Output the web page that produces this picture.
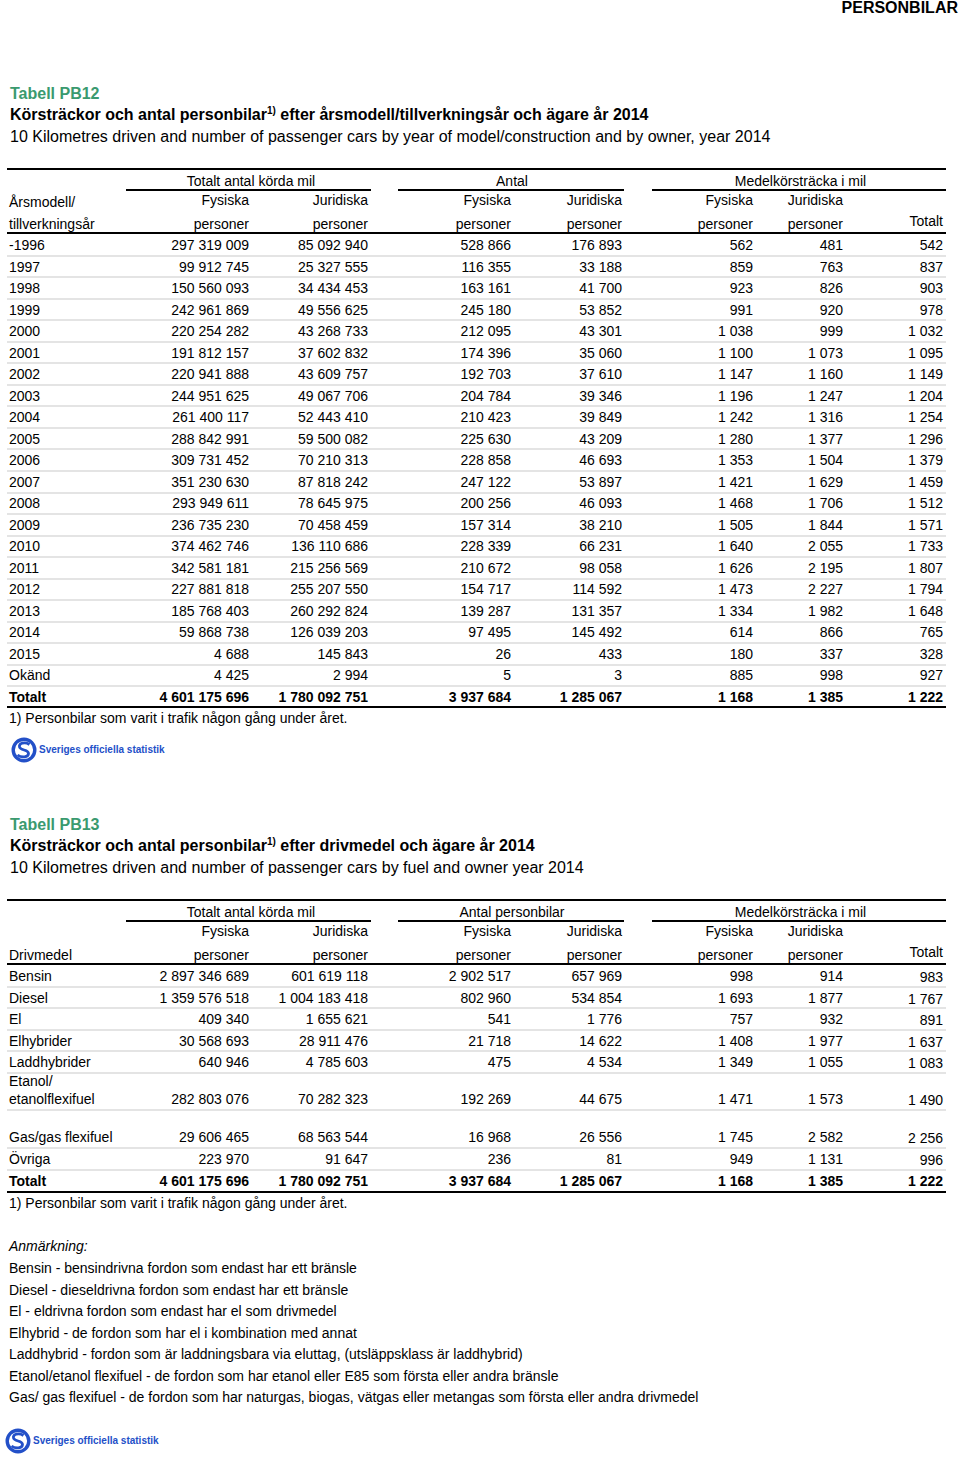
<!DOCTYPE html>
<html><head><meta charset="utf-8">
<script src="https://cdn.jsdelivr.net/npm/chart.js@4.4.1/dist/chart.umd.min.js"></script>
<style>
html,body{margin:0;padding:0;background:#fff}
body{width:960px;height:1458px;position:relative;overflow:hidden;font-family:"Liberation Sans",Arial,Helvetica,sans-serif;color:#000}
.t{position:absolute;white-space:nowrap;height:20px;line-height:20px;font-size:14px}
.l{position:absolute}
sup{font-size:10px;line-height:0;vertical-align:6px}
.logotxt{position:absolute;white-space:nowrap;font-family:"Liberation Sans",Arial,sans-serif;font-weight:bold;font-size:10px;line-height:14px;height:14px;color:#2350c8}
</style></head><body>
<script>
// ---------- DATA: Tabell PB12 ----------
const years = ['-1996','1997','1998','1999','2000','2001','2002','2003','2004','2005','2006','2007','2008','2009','2010','2011','2012','2013','2014','2015','Okänd'];
const kmFys = [297319009,99912745,150560093,242961869,220254282,191812157,220941888,244951625,261400117,288842991,309731452,351230630,293949611,236735230,374462746,342581181,227881818,185768403,59868738,4688,4425];
const kmJur = [85092940,25327555,34434453,49556625,43268733,37602832,43609757,49067706,52443410,59500082,70210313,87818242,78645975,70458459,136110686,215256569,255207550,260292824,126039203,145843,2994];
const antFys = [528866,116355,163161,245180,212095,174396,192703,204784,210423,225630,228858,247122,200256,157314,228339,210672,154717,139287,97495,26,5];
const antJur = [176893,33188,41700,53852,43301,35060,37610,39346,39849,43209,46693,53897,46093,38210,66231,98058,114592,131357,145492,433,3];
const medFys = [562,859,923,991,1038,1100,1147,1196,1242,1280,1353,1421,1468,1505,1640,1626,1473,1334,614,180,885];
const medJur = [481,763,826,920,999,1073,1160,1247,1316,1377,1504,1629,1706,1844,2055,2195,2227,1982,866,337,998];
const medTot = [542,837,903,978,1032,1095,1149,1204,1254,1296,1379,1459,1512,1571,1733,1807,1794,1648,765,328,927];
const totals1 = [4601175696,1780092751,3937684,1285067,1168,1385,1222];

// ---------- DATA: Tabell PB13 ----------
const fuels = ['Bensin','Diesel','El','Elhybrider','Laddhybrider','Etanol/|etanolflexifuel','Gas/gas flexifuel','Övriga'];
const kmFys2 = [2897346689,1359576518,409340,30568693,640946,282803076,29606465,223970];
const kmJur2 = [601619118,1004183418,1655621,28911476,4785603,70282323,68563544,91647];
const antFys2 = [2902517,802960,541,21718,475,192269,16968,236];
const antJur2 = [657969,534854,1776,14622,4534,44675,26556,81];
const medFys2 = [998,1693,757,1408,1349,1471,1745,949];
const medJur2 = [914,1877,932,1977,1055,1573,2582,1131];
const medTot2 = [983,1767,891,1637,1083,1490,2256,996];
const totals2 = [4601175696,1780092751,3937684,1285067,1168,1385,1222];

const groupHeads1 = ['Totalt antal körda mil','Antal','Medelkörsträcka i mil'];
const groupHeads2 = ['Totalt antal körda mil','Antal personbilar','Medelkörsträcka i mil'];
const notes = [
 'Bensin - bensindrivna fordon som endast har ett bränsle',
 'Diesel - dieseldrivna fordon som endast har ett bränsle',
 'El - eldrivna fordon som endast har el som drivmedel',
 'Elhybrid - de fordon som har el i kombination med annat',
 'Laddhybrid - fordon som är laddningsbara via eluttag, (utsläppsklass är laddhybrid)',
 'Etanol/etanol flexifuel - de fordon som har etanol eller E85 som första eller andra bränsle',
 'Gas/ gas flexifuel - de fordon som har naturgas, biogas, vätgas eller metangas som första eller andra drivmedel'
];

// ---------- helpers ----------
const page = document.body;
const fmt = n => String(n).replace(/\B(?=(\d{3})+(?!\d))/g,'\u00a0');
function txt(s, x, y, align, st, html){
  const d=document.createElement('div'); d.className='t';
  if(html) d.innerHTML=s; else d.textContent=s;
  if(align==='right'){d.style.left=(x-500)+'px';d.style.width='500px';d.style.textAlign='right';}
  else if(align==='center'){d.style.left=(x-250)+'px';d.style.width='500px';d.style.textAlign='center';}
  else d.style.left=x+'px';
  d.style.top=(y-10)+'px';
  if(st) Object.assign(d.style,st);
  page.appendChild(d); return d;
}
function hline(x1,x2,y,h,c){
  const d=document.createElement('div'); d.className='l';
  Object.assign(d.style,{left:x1+'px',width:(x2-x1)+'px',top:(y-h/2)+'px',height:h+'px',background:c});
  page.appendChild(d);
}
function logo(x,y){
  const d=document.createElement('div'); d.className='l';
  d.style.left=x+'px'; d.style.top=(y-13)+'px';
  d.innerHTML='<svg width="28" height="26" xmlns="http://www.w3.org/2000/svg">'+
   '<circle cx="13" cy="13" r="10.8" fill="none" stroke="#2350c8" stroke-width="3.4"/>'+
   '<path d="M18.5 7.5 C14 4.5 7.5 6 8.5 10 C9.5 14 17.5 12 17.5 16.5 C17.5 20.5 10.5 21 6.5 18" fill="none" stroke="#2350c8" stroke-width="2.8"/></svg>';
  page.appendChild(d);
  const t=document.createElement('div'); t.className='logotxt';
  t.textContent='Sveriges officiella statistik';
  t.style.left=(x+28)+'px'; t.style.top=(y-7)+'px';
  page.appendChild(t);
}

const colX = [249,368,511,622,753,843,943];
const L=7, R=946;
const groupSpans = [[126,371],[398,624],[652,946]];
const headShift = [2.5,1,1.5];
const green = '#3a9a6f';
const bigFont = {fontSize:'16px'};

// header
txt('PERSONBILAR',958,8,'right',{fontSize:'16px',fontWeight:'bold'});

function header(top, heads, labelTop, labelBot){
  hline(L,R,top,2,'#000');
  groupSpans.forEach((s,i)=>{
    txt(heads[i],(s[0]+s[1])/2+headShift[i],top+12,'center');
    hline(s[0],s[1],top+21,2,'#000');
  });
  const r2=top+31, r3=top+55;
  if(labelTop) txt(labelTop,9,r2+2);
  txt(labelBot,9,r3);
  ['Fysiska','Juridiska','Fysiska','Juridiska','Fysiska','Juridiska'].forEach((s,i)=>txt(s,colX[i],r2,'right'));
  for(let i=0;i<6;i++) txt('personer',colX[i],r3,'right');
  txt('Totalt',colX[6],r3-3,'right');
  hline(L,R,top+64,2,'#000');
}
function row(label, vals, y, bold){
  const st = bold?{fontWeight:'bold'}:null;
  txt(label,9,y,'left',st);
  vals.forEach((v,i)=>txt(fmt(v),colX[i],y,'right',st));
}

// ---------- Tabell PB12 ----------
txt('Tabell PB12',10,94,'left',{fontSize:'16px',fontWeight:'bold',color:green});
txt('Körsträckor och antal personbilar<sup>1)</sup> efter årsmodell/tillverkningsår och ägare år 2014',10,115,'left',{fontSize:'16px',fontWeight:'bold'},true);
txt('10 Kilometres driven and number of passenger cars by year of model/construction and by owner, year 2014',10,137,'left',bigFont);
header(169, groupHeads1, 'Årsmodell/', 'tillverkningsår');
const rh=21.52;
years.forEach((yname,i)=>{
  const y=245+i*rh;
  row(yname,[kmFys[i],kmJur[i],antFys[i],antJur[i],medFys[i],medJur[i],medTot[i]],y,false);
  hline(L,R,y+10.8,2,'#e4e4e4');
});
const yT1=245+years.length*rh;
row('Totalt',totals1,yT1,true);
hline(L,R,yT1+10.5,2,'#000');
txt('1) Personbilar som varit i trafik någon gång under året.',9,718);
logo(11,750);

// ---------- Tabell PB13 ----------
txt('Tabell PB13',10,825,'left',{fontSize:'16px',fontWeight:'bold',color:green});
txt('Körsträckor och antal personbilar<sup>1)</sup> efter drivmedel och ägare år 2014',10,846,'left',{fontSize:'16px',fontWeight:'bold'},true);
txt('10 Kilometres driven and number of passenger cars by fuel and owner year 2014',10,868,'left',bigFont);
header(900, groupHeads2, null, 'Drivmedel');
const rowY2=[976,997.5,1019,1040.5,1062,1099,1137,1159];
fuels.forEach((f,i)=>{
  const y=rowY2[i];
  const parts=f.split('|');
  if(parts.length>1){txt(parts[0],9,y-18);txt(parts[1],9,y);}
  else txt(f,9,y);
  const vals=[kmFys2[i],kmJur2[i],antFys2[i],antJur2[i],medFys2[i],medJur2[i]];
  vals.forEach((v,k)=>txt(fmt(v),colX[k],y,'right'));
  txt(fmt(medTot2[i]),colX[6],y+1,'right');
  hline(L,R,y+10.8,2,'#e4e4e4');
});
row('Totalt',totals2,1181,true);
hline(L,R,1191.5,2,'#000');
txt('1) Personbilar som varit i trafik någon gång under året.',9,1203);

txt('Anmärkning:',9,1246,'left',{fontStyle:'italic'});
notes.forEach((n,i)=>txt(n,9,1268+i*21.5));
logo(5,1441);
</script>
</body></html>
